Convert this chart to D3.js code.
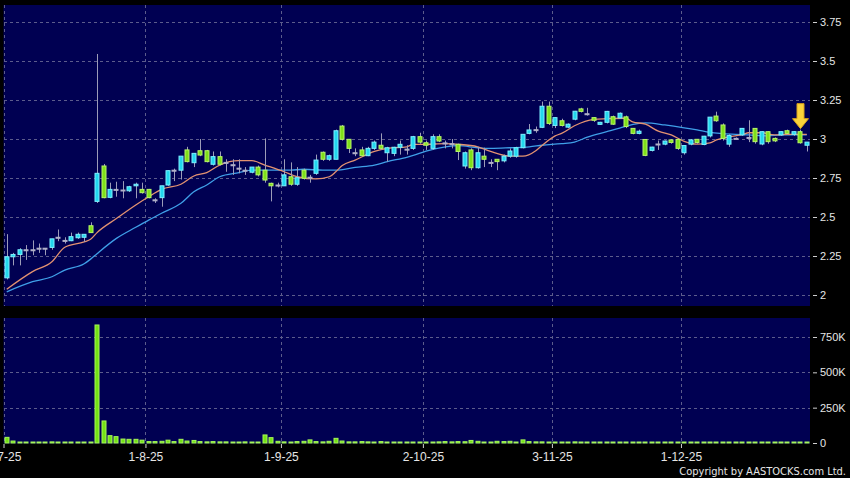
<!DOCTYPE html>
<html>
<head>
<meta charset="utf-8">
<script src="https://cdn.jsdelivr.net/npm/d3@7"></script>
<style>
body { margin: 0; background: #000; }
svg { display: block; font-family: "DejaVu Sans", sans-serif; }
.axis text { fill: #e6e6e6; font-size: 11px; }
.axis line { stroke: #cfcfcf; }
.axis path { display: none; }
.xaxis text { font-size: 12px; }
.grid line { stroke: #5c5c8c; stroke-dasharray: 3,3; shape-rendering: crispEdges; }
</style>
</head>
<body>
<svg width="850" height="478"></svg>
<script>
// daily candles, 2-7-25 .. 30-12-25 (trading days)
var opens = [2.11,2.245,2.26,2.29,2.29,2.30,2.30,2.305,2.37,2.35,
2.348,2.367,2.37,2.444,2.60,2.827,2.626,2.677,2.673,2.668,
2.70,2.677,2.677,2.61,2.624,2.705,2.80,2.80,2.93,2.848,
2.925,2.925,2.838,2.887,2.85,2.835,2.813,2.80,2.787,2.82,
2.80,2.716,2.705,2.70,2.758,2.71,2.80,2.755,2.78,2.915,
2.87,2.87,3.083,2.998,2.912,2.93,2.893,2.94,2.96,2.912,
2.908,2.947,2.935,2.94,3.015,2.976,2.94,3.015,2.975,2.97,
2.966,2.827,2.93,2.816,2.89,2.85,2.87,2.86,2.89,2.89,
2.944,3.036,3.06,3.075,3.21,3.087,3.117,3.076,3.127,3.193,
3.162,3.137,3.094,3.107,3.143,3.135,3.142,3.068,3.036,2.997,
2.927,2.968,2.967,2.994,2.997,2.912,2.967,2.998,2.965,3.02,
3.147,3.09,2.967,3.004,3.026,3.01,3.068,2.968,3.047,3.004,
3.026,3.053,3.03,3.047,2.96];

var highs = [2.39,2.27,2.30,2.32,2.35,2.33,2.30,2.36,2.42,2.37,
2.40,2.40,2.39,2.466,3.545,2.84,2.72,2.726,2.73,2.70,
2.72,2.72,2.68,2.62,2.70,2.80,2.81,2.89,2.95,2.91,
3.00,2.93,2.92,2.92,2.87,2.87,2.87,2.82,2.82,2.83,
3.004,2.72,2.72,2.87,2.85,2.82,2.81,2.77,2.90,2.92,
2.90,3.06,3.09,3.0,2.94,2.95,2.95,2.99,3.036,2.95,
2.95,2.99,2.96,3.02,3.04,2.99,3.03,3.03,2.99,3.0,
2.97,2.92,2.94,2.95,2.944,2.87,2.87,2.90,2.94,2.95,
3.03,3.096,3.08,3.24,3.24,3.14,3.13,3.10,3.18,3.20,
3.20,3.14,3.11,3.18,3.15,3.17,3.15,3.07,3.06,3.0,
2.95,2.99,2.99,3.0,3.0,2.96,3.0,3.0,3.02,3.14,
3.175,3.10,3.03,3.01,3.07,3.12,3.07,3.05,3.05,3.01,
3.05,3.06,3.05,3.06,2.98];

var lows = [2.10,2.19,2.19,2.225,2.255,2.27,2.255,2.29,2.345,2.33,
2.345,2.36,2.34,2.40,2.59,2.62,2.62,2.63,2.62,2.66,
2.62,2.65,2.62,2.59,2.566,2.70,2.73,2.74,2.85,2.82,
2.89,2.85,2.83,2.83,2.79,2.77,2.78,2.77,2.78,2.76,
2.72,2.60,2.69,2.70,2.70,2.70,2.74,2.72,2.77,2.86,
2.86,2.87,2.99,2.91,2.89,2.89,2.89,2.93,2.93,2.855,
2.89,2.90,2.90,2.93,2.97,2.93,2.93,2.98,2.94,2.94,
2.865,2.81,2.80,2.81,2.82,2.82,2.80,2.85,2.88,2.88,
2.94,3.03,3.04,3.07,3.09,3.07,3.08,3.07,3.12,3.17,
3.15,3.11,3.09,3.10,3.09,3.13,3.07,3.03,3.03,2.89,
2.92,2.93,2.96,2.97,2.93,2.90,2.96,2.97,2.96,3.01,
3.11,2.99,2.95,3.0,3.02,2.98,2.97,2.96,2.97,2.98,
3.02,3.03,3.02,2.97,2.92];

var closes = [2.245,2.26,2.29,2.29,2.29,2.30,2.30,2.36,2.37,2.35,
2.374,2.389,2.389,2.40,2.78,2.624,2.677,2.677,2.673,2.694,
2.71,2.656,2.624,2.61,2.70,2.797,2.80,2.89,2.855,2.908,
2.897,2.855,2.887,2.838,2.85,2.835,2.813,2.80,2.82,2.77,
2.737,2.70,2.705,2.77,2.71,2.752,2.748,2.755,2.865,2.87,
2.893,3.053,2.998,2.94,2.912,2.893,2.94,2.98,2.94,2.944,
2.947,2.966,2.935,3.015,2.98,2.96,3.015,2.987,2.975,2.97,
2.92,2.912,2.816,2.912,2.87,2.85,2.855,2.89,2.923,2.944,
3.03,3.058,3.06,3.21,3.10,3.137,3.087,3.095,3.178,3.177,
3.162,3.12,3.107,3.177,3.095,3.165,3.08,3.036,3.05,2.895,
2.948,2.968,2.987,2.978,2.94,2.958,2.994,2.978,3.018,3.14,
3.117,3.004,3.022,3.004,3.068,3.01,2.983,3.047,2.983,2.988,
3.047,3.036,3.047,2.976,2.98];

// volume, thousands of shares
var volumes = [40,14,7,5,5,2,2,8,5,5,
5,3,5,3,835,156,52,45,28,26,
26,20,10,10,12,20,10,26,14,18,
10,8,10,8,8,6,6,8,4,6,
57,38,12,8,5,10,12,22,10,8,
12,33,14,8,8,10,8,6,10,6,
5,5,4,3,3,4,3,8,10,8,
10,9,18,12,5,6,12,10,12,6,
22,10,8,8,4,5,6,6,8,5,
2,3,3,4,3,2,2,3,2,4,
3,2,2,2,3,2,2,3,2,4,
3,2,2,2,2,3,3,2,2,2,
2,2,2,3,2];

// moving averages (candle index, value)
var ma10Day = [0,4,7,9,12,13,14,17,20,22,24,27,29,31,33,36,38,40,43,45,48,50,51,52,54,57,59,62,63,65,68,70,73,75,78,80,82,83,85,86,88,91,93,96,97,99,101,103,105,107,109,110,112,114,115,117,119,121,124];
var ma10 = [2.037,2.15,2.213,2.306,2.34,2.357,2.40,2.49,2.577,2.63,2.677,2.71,2.763,2.785,2.833,2.861,2.861,2.833,2.79,2.758,2.744,2.758,2.79,2.83,2.865,2.92,2.94,2.95,2.965,2.966,2.97,2.966,2.95,2.92,2.89,2.89,2.925,2.96,3.02,3.036,3.085,3.126,3.13,3.133,3.11,3.095,3.05,3.026,2.985,2.967,2.975,2.994,3.015,3.028,3.04,3.04,3.026,3.03,3.03];
var ma20Day = [0,4,7,9,12,13,14,17,20,22,24,27,29,31,33,36,38,41,44,46,49,51,54,57,59,62,63,65,68,70,73,75,78,81,83,86,88,90,93,95,98,99,102,105,107,109,111,113,115,118,120,124];
var ma20 = [2.02,2.085,2.117,2.16,2.2,2.23,2.265,2.363,2.434,2.48,2.524,2.588,2.662,2.705,2.758,2.784,2.80,2.80,2.80,2.806,2.80,2.80,2.818,2.833,2.855,2.883,2.895,2.923,2.95,2.957,2.944,2.94,2.944,2.95,2.96,2.97,2.98,3.012,3.047,3.07,3.10,3.103,3.09,3.072,3.058,3.042,3.035,3.03,3.026,3.02,3.026,3.026];

var tickDays = [0, 22, 43, 65, 85, 105];
var tickLabels = ["2-7-25", "1-8-25", "1-9-25", "2-10-25", "3-11-25", "1-12-25"];
var priceTicks = [2, 2.25, 2.5, 2.75, 3, 3.25, 3.5, 3.75];
var volTicks = [0, 250, 500, 750];
var arrowDay = 123;

var svg = d3.select("svg");
var n = closes.length;
var left = 3.5, right = 810;

var x = d3.scaleLinear().domain([-0.5, n - 0.5]).range([left, right]);
var y = d3.scaleLinear().domain([2, 3.75]).range([295, 22]);
var yv = d3.scaleLinear().domain([0, 750]).range([443, 337]);
var bw = 5;

// panels
svg.append("rect").attr("x", left).attr("y", 5).attr("width", right - left).attr("height", 301).attr("fill", "#000052");
svg.append("rect").attr("x", left).attr("y", 318).attr("width", right - left).attr("height", 125.5).attr("fill", "#000052");

// grid
var grid = svg.append("g").attr("class", "grid");
grid.selectAll(".hp").data(priceTicks).enter().append("line")
  .attr("x1", left).attr("x2", right)
  .attr("y1", function(d) { return Math.round(y(d)) + 0.5; })
  .attr("y2", function(d) { return Math.round(y(d)) + 0.5; });
grid.selectAll(".hv").data(volTicks.slice(1)).enter().append("line")
  .attr("x1", left).attr("x2", right)
  .attr("y1", function(d) { return Math.round(yv(d)) + 0.5; })
  .attr("y2", function(d) { return Math.round(yv(d)) + 0.5; });
tickDays.forEach(function(d) {
  var gx = Math.round(x(d - 0.5)) + 0.5;
  grid.append("line").attr("x1", gx).attr("x2", gx).attr("y1", 5).attr("y2", 306);
  grid.append("line").attr("x1", gx).attr("x2", gx).attr("y1", 318).attr("y2", 443);
});

// moving averages
var maLine = d3.line().curve(d3.curveMonotoneX)
  .x(function(d) { return x(d[0]); })
  .y(function(d) { return y(d[1]); });
svg.append("path").datum(d3.zip(ma20Day, ma20))
  .attr("fill", "none").attr("stroke", "#3f9fe8").attr("stroke-width", 1.3)
  .attr("d", maLine);
svg.append("path").datum(d3.zip(ma10Day, ma10))
  .attr("fill", "none").attr("stroke", "#e39271").attr("stroke-width", 1.3)
  .attr("d", maLine);

// candles
var candles = d3.range(n).map(function(i) {
  return {i: i, o: opens[i], h: highs[i], l: lows[i], c: closes[i]};
});
function col(d) { return d.c > d.o ? "#22d8ee" : d.c < d.o ? "#7fe019" : "#9a9ab4"; }
function edge(d) { return d.c > d.o ? "#7ff0ff" : d.c < d.o ? "#b8f56a" : "#b0b0c8"; }

var cg = svg.selectAll(".candle").data(candles).enter().append("g").attr("class", "candle");
cg.append("line")
  .attr("x1", function(d) { return Math.round(x(d.i)) + 0.5; })
  .attr("x2", function(d) { return Math.round(x(d.i)) + 0.5; })
  .attr("y1", function(d) { return y(d.h); })
  .attr("y2", function(d) { return y(d.l); })
  .attr("stroke", "#9c9cb8").attr("stroke-width", 1);
cg.append("rect")
  .attr("x", function(d) { return Math.round(x(d.i)) - 2; })
  .attr("width", bw - 1)
  .attr("y", function(d) { return y(Math.max(d.o, d.c)); })
  .attr("height", function(d) { return Math.max(1, y(Math.min(d.o, d.c)) - y(Math.max(d.o, d.c))); })
  .attr("fill", col).attr("stroke", edge).attr("stroke-width", 1);

// volume bars
svg.selectAll(".vol").data(volumes).enter().append("rect")
  .attr("x", function(d, i) { return Math.round(x(i)) - 2; })
  .attr("width", bw - 1)
  .attr("y", function(d) { return Math.min(yv(d), 442); })
  .attr("height", function(d) { return Math.max(1, 443 - yv(d)); })
  .attr("fill", "#74e214").attr("stroke", "#a6f55a").attr("stroke-width", 1);

// arrow on the last-but-one session
var ax = Math.round(x(arrowDay)) + 0.5, at = y(highs[arrowDay]) - 1;
svg.append("path")
  .attr("d", "M" + ax + "," + at + " l-8,-10 h4.5 v-15 h7 v15 h4.5 z")
  .attr("fill", "#fbd33a").attr("stroke", "#d9a21c").attr("stroke-width", 1);

// axes
svg.append("g").attr("class", "axis")
  .attr("transform", "translate(813,0)")
  .call(d3.axisRight(y).tickValues(priceTicks).tickSize(4).tickPadding(3).tickFormat(function(d) { return d; }));
svg.append("g").attr("class", "axis")
  .attr("transform", "translate(813,0)")
  .call(d3.axisRight(yv).tickValues(volTicks).tickSize(4).tickPadding(3)
    .tickFormat(function(d) { return d === 0 ? "0" : d + "K"; }));
svg.append("g").attr("class", "axis xaxis")
  .attr("transform", "translate(0,444)")
  .call(d3.axisBottom(x).tickValues(tickDays.map(function(d) { return d - 0.5; }))
    .tickSize(4).tickPadding(4)
    .tickFormat(function(d, i) { return tickLabels[i]; }));

svg.append("text")
  .attr("x", 846).attr("y", 475).attr("text-anchor", "end")
  .attr("fill", "#e6e6e6")
  .style("font-family", "'DejaVu Sans Condensed', 'DejaVu Sans', sans-serif")
  .style("font-size", "11px")
  .text("Copyright by AASTOCKS.com Ltd.");
</script>
</body>
</html>
